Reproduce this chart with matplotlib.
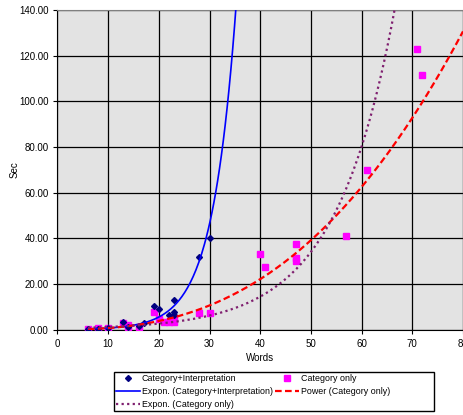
import numpy as np
import matplotlib.pyplot as plt
from matplotlib.ticker import FuncFormatter
from matplotlib.patches import Rectangle

plt.rcParams['font.family'] = ['Liberation Sans', 'DejaVu Sans']

# Colours
NAVY = "#000080"
MAGENTA = "#FF00FF"
BLUE = "#0000FF"
RED = "#FF0000"
PURPLE = "#7F1F6F"
PLOT_BG = "#E3E3E3"

### Data
# Category+Interpretation
ci_words = [6, 8, 10, 13, 14, 16, 17, 19, 20, 22, 23, 23, 23, 28, 30]
ci_sec = [0.2, 0.4, 0.5, 3.2, 1.2, 1.5, 2.7, 10.3, 9.1, 6.4, 13.0, 7.5, 6.3, 31.8, 40.2]

# Category only
co_words = [6, 8, 10, 13, 14, 14, 16, 19, 20, 21, 22, 23, 23, 28, 30,
            40, 41, 47, 47, 47, 57, 61, 71, 72]
co_sec = [0.15, 0.5, 0.5, 2.7, 2.0, 1.0, 1.2, 7.6, 4.5, 3.5, 3.3, 3.4, 4.5, 7.4, 7.1,
          33.0, 27.3, 37.4, 31.5, 30.0, 40.9, 69.7, 123.0, 111.5]

x_ticks = [0, 10, 20, 30, 40, 50, 60, 70, 80]
y_ticks = [0, 20, 40, 60, 80, 100, 120, 140]

ci_x = np.array(ci_words, dtype=float)
ci_y = np.array(ci_sec)
co_x = np.array(co_words, dtype=float)
co_y = np.array(co_sec)

# Excel-style trend lines (least squares on logs)
b_ci, lna_ci = np.polyfit(ci_x, np.log(ci_y), 1)
b_co, lna_co = np.polyfit(co_x, np.log(co_y), 1)
p_co, lnp_co = np.polyfit(np.log(co_x), np.log(co_y), 1)

xs = np.linspace(6, 80, 400)

fig = plt.figure(figsize=(4.64, 4.15), dpi=100)
ax = fig.add_axes([0.1239, 0.2060, 0.8739, 0.7699])
ax.set_facecolor(PLOT_BG)

sc1, = ax.plot(ci_x, ci_y, linestyle="none", marker="D", ms=3, color=NAVY,
               label="Category+Interpretation", zorder=4)
sc2, = ax.plot(co_x, co_y, linestyle="none", marker="s", ms=4.5, color=MAGENTA,
               label="Category only", zorder=3)

l1, = ax.plot(xs, np.exp(lna_ci + b_ci * xs), color=BLUE, lw=1.2,
              label="Expon. (Category+Interpretation)", zorder=5)
l2, = ax.plot(xs, np.exp(lnp_co) * xs ** p_co, color=RED, lw=1.6,
              dashes=(3, 1.5), label="Power (Category only)", zorder=5)
l3, = ax.plot(xs, np.exp(lna_co + b_co * xs), color=PURPLE, lw=1.6,
              dashes=(1, 1.5), label="Expon. (Category only)", zorder=5)

ax.set_xlim(0, 80)
ax.set_ylim(0, 140)
ax.set_xticks(x_ticks)
ax.set_yticks(y_ticks)
ax.yaxis.set_major_formatter(FuncFormatter(lambda v, pos: f"{v:.2f}"))
ax.grid(True, color="black", lw=0.9)
ax.set_axisbelow(True)
ax.tick_params(labelsize=7, length=3, width=0.8, colors="black")

for side in ["left", "bottom"]:
    ax.spines[side].set_color("black")
for side in ["top", "right"]:
    ax.spines[side].set_color("#808080")

ax.set_xlabel("Words", fontsize=7, labelpad=3)
ax.set_ylabel("Sec", fontsize=7, va="center")
ax.yaxis.set_label_coords(-0.107, 0.5)

# Legend frame drawn separately (Excel box is wider than its contents)
fig.patches.append(Rectangle((114 / 464, 4 / 415), 320 / 464, 39 / 415,
                             transform=fig.transFigure, facecolor="white",
                             edgecolor="black", lw=1, zorder=1))

leg = fig.legend(
    handles=[sc1, l1, l3, sc2, l2],
    loc="upper left",
    bbox_to_anchor=(114 / 464, 1 - 372 / 415),
    ncol=2,
    fontsize=6.4,
    frameon=False,
    borderaxespad=0,
    handlelength=2.7,
    handletextpad=0.2,
    labelspacing=0.45,
    borderpad=0.2,
    columnspacing=0.3,
)
leg.set_zorder(2)

fig.savefig("out.png", dpi=100)
